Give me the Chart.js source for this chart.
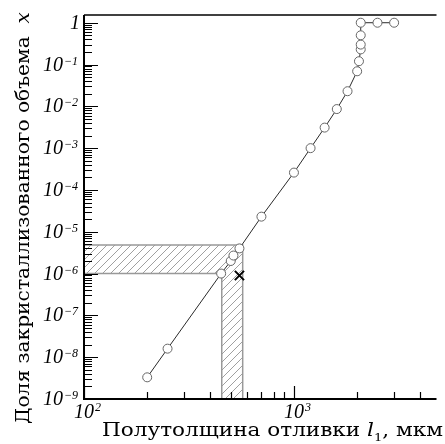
<!DOCTYPE html>
<html><head><meta charset="utf-8">
<script src="https://cdn.jsdelivr.net/npm/chart.js@4/dist/chart.umd.min.js"></script>
<style>html,body{margin:0;padding:0;background:#fff;}</style>
</head><body>
<canvas id="c" width="445" height="444"></canvas>
<script>
// ---- data ----
const thickness = [200, 250, 450, 500, 515, 550, 700, 1000, 1200, 1400, 1600, 1800, 2000, 2040, 2080, 2080, 2080, 2080, 2500, 3000];
const fraction  = [3.3e-9, 1.6e-8, 1.0e-6, 2.0e-6, 2.7e-6, 4.0e-6, 2.3e-5, 2.6e-4, 1.0e-3, 3.1e-3, 8.6e-3, 0.023, 0.069, 0.12, 0.23, 0.30, 0.50, 1.0, 1.0, 1.0];
const markThickness = [550];
const markFraction  = [9e-7];
const bandThickness = [100, 453, 453, 570, 570, 100, 100];
const bandFraction  = [1e-6, 1e-6, 1e-9, 1e-9, 4.8e-6, 4.8e-6, 1e-6];
const xTickValues = [100, 1000];
const xTickLabels = ['10^2', '10^3'];
const yTickValues = [1e-9, 1e-8, 1e-7, 1e-6, 1e-5, 1e-4, 1e-3, 1e-2, 1e-1, 1];
const yTickLabels = ['10^\u22129', '10^\u22128', '10^\u22127', '10^\u22126', '10^\u22125', '10^\u22124', '10^\u22123', '10^\u22122', '10^\u22121', '1'];
const minorMultipliers = [2, 3, 4, 5, 6, 7, 8, 9];
const xTitleParts = [['Полутолщина отливки ', 'n'], ['l', 'i'], ['1', 's'], [', мкм', 'n']];
const yTitleParts = [['Доля закристаллизованного объема  ', 'n'], ['x', 'i']];

function hatchPattern() {
  const c = document.createElement('canvas'); c.width = 8; c.height = 8;
  const g = c.getContext('2d');
  g.strokeStyle = '#a0a0a0'; g.lineWidth = 1;
  g.beginPath();
  g.moveTo(0, 8); g.lineTo(8, 0);
  g.moveTo(-1, 1); g.lineTo(1, -1);
  g.moveTo(7, 9); g.lineTo(9, 7);
  g.stroke();
  return g.createPattern(c, 'repeat');
}

const TICK_FONT = '"Liberation Serif"';
const TITLE_FONT = '"DejaVu Serif"';

function splitLabel(l) { const i = l.indexOf('^'); return i < 0 ? [l, ''] : [l.slice(0, i), l.slice(i + 1)]; }

function drawTitle(ctx, parts, size, targetW) {
  const fonts = { n: size + 'px ' + TITLE_FONT, i: 'italic ' + size + 'px ' + TITLE_FONT, s: Math.round(size * 0.6) + 'px ' + TITLE_FONT };
  let total = 0; const ws = [];
  parts.forEach(([t, k]) => { ctx.font = fonts[k]; const w = ctx.measureText(t).width; ws.push(w); total += w; });
  const sx = targetW / total;
  ctx.scale(sx, 1);
  let x = 0;
  parts.forEach(([t, k], i) => {
    ctx.font = fonts[k];
    ctx.fillText(t, x, k === 's' ? size * 0.3 : 0);
    x += ws[i];
  });
}

const axesPlugin = {
  id: 'axesPlugin',
  afterDatasetsDraw(chart) {
    const { ctx, chartArea: a, scales: { x, y } } = chart;
    ctx.save();
    ctx.strokeStyle = '#000';
    ctx.lineWidth = 1.2;
    ctx.beginPath();
    for (let e = -9; e <= 0; e++) {
      const yp = Math.round(y.getPixelForValue(Math.pow(10, e))) + 0.5;
      ctx.moveTo(a.left, yp); ctx.lineTo(a.left + 14, yp);
      minorMultipliers.forEach(m => {
        const v = m * Math.pow(10, e);
        if (v < y.max && v > y.min) {
          const p = Math.round(y.getPixelForValue(v)) + 0.5;
          ctx.moveTo(a.left, p); ctx.lineTo(a.left + 8, p);
        }
      });
    }
    for (let e = 2; e <= 3; e++) {
      const xp = Math.round(x.getPixelForValue(Math.pow(10, e))) + 0.5;
      ctx.moveTo(xp, a.bottom); ctx.lineTo(xp, a.bottom - 13);
      minorMultipliers.forEach(m => {
        const v = m * Math.pow(10, e);
        if (v < x.max && v > x.min) {
          const p = Math.round(x.getPixelForValue(v)) + 0.5;
          ctx.moveTo(p, a.bottom); ctx.lineTo(p, a.bottom - 7);
        }
      });
    }
    ctx.stroke();
    ctx.lineWidth = 2;
    ctx.beginPath();
    ctx.moveTo(a.left, a.top); ctx.lineTo(a.left, a.bottom); ctx.lineTo(a.right, a.bottom);
    ctx.stroke();
    ctx.lineWidth = 1.5;
    ctx.beginPath();
    ctx.moveTo(a.left, a.top); ctx.lineTo(a.right, a.top);
    ctx.stroke();

    // tick labels
    ctx.fillStyle = '#000';
    ctx.textBaseline = 'alphabetic';
    ctx.textAlign = 'left';
    const bf = 'italic 20px ' + TICK_FONT, sf = 'italic 12px ' + TICK_FONT;
    yTickValues.forEach((v, i) => {
      const [b, s] = splitLabel(yTickLabels[i]);
      const yp = y.getPixelForValue(v);
      ctx.font = bf; const wb = ctx.measureText(b).width;
      ctx.font = sf; const wsup = s ? ctx.measureText(s).width : 0;
      const x0 = (s ? 77 : 80) - wb - wsup;
      ctx.font = bf; ctx.fillText(b, x0, yp + 6);
      if (s) { ctx.font = sf; ctx.fillText(s, x0 + wb + 1, yp); }
    });
    xTickValues.forEach((v, i) => {
      const [b, s] = splitLabel(xTickLabels[i]);
      const xp = x.getPixelForValue(v);
      ctx.font = bf; const wb = ctx.measureText(b).width;
      const x0 = xp - wb / 2;
      ctx.fillText(b, x0, a.bottom + 19);
      if (s) { ctx.font = sf; ctx.fillText(s, x0 + wb + 1, a.bottom + 12); }
    });

    // axis titles
    ctx.save();
    ctx.translate(102, 436);
    drawTitle(ctx, xTitleParts, 18, 341);
    ctx.restore();
    ctx.save();
    ctx.translate(29, 424);
    ctx.rotate(-Math.PI / 2);
    drawTitle(ctx, yTitleParts, 18, 412);
    ctx.restore();
    ctx.restore();
  }
};

new Chart(document.getElementById('c'), {
  type: 'scatter',
  data: {
    datasets: [
      {
        data: markThickness.map((t, i) => ({ x: t, y: markFraction[i] })),
        showLine: false, pointStyle: 'crossRot', pointRadius: 6.5,
        borderColor: '#000', pointBorderColor: '#000', pointBorderWidth: 2, order: 0
      },
      {
        data: thickness.map((t, i) => ({ x: t, y: fraction[i] })),
        showLine: true, borderColor: '#2a2a2a', borderWidth: 1, tension: 0,
        pointRadius: 4.5, pointBackgroundColor: '#fff', pointBorderColor: '#666', pointBorderWidth: 1, order: 1
      },
      {
        data: bandThickness.map((t, i) => ({ x: t, y: bandFraction[i] })),
        showLine: true, borderColor: '#999', borderWidth: 1.5, tension: 0,
        fill: 'shape', backgroundColor: hatchPattern(), pointRadius: 0, order: 2,
        borderJoinStyle: 'miter'
      }
    ]
  },
  options: {
    responsive: false, animation: false, events: [],
    devicePixelRatio: 1,
    layout: { padding: { left: 84, top: 15, right: 0, bottom: 45 } },
    plugins: { legend: { display: false }, tooltip: { enabled: false } },
    scales: {
      x: { type: 'logarithmic', min: 100, max: 4775, display: false },
      y: { type: 'logarithmic', min: 1e-9, max: 1.53, display: false }
    }
  },
  plugins: [axesPlugin]
});
</script>
</body></html>
